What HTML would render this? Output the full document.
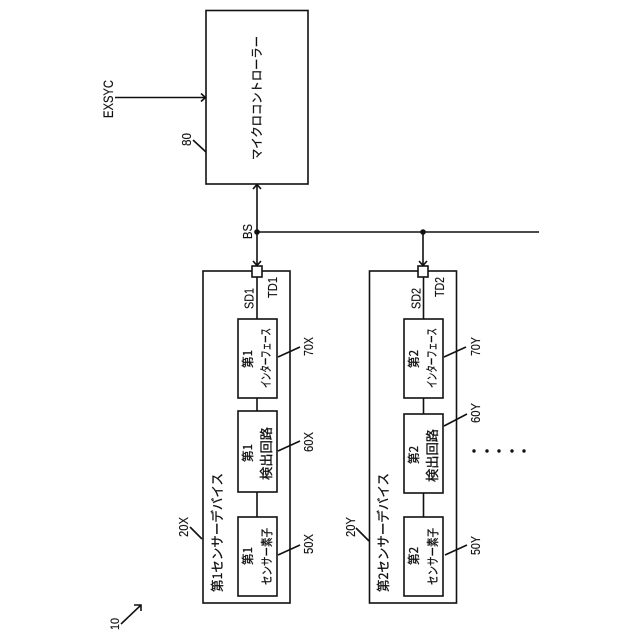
<!DOCTYPE html>
<html><head><meta charset="utf-8"><style>
html,body{margin:0;padding:0;background:#fff}
svg{display:block}
text{font-family:"Liberation Sans","Noto Sans CJK JP",sans-serif;fill:#111;stroke:#111;stroke-width:.15px}
.j text{font-family:"Noto Sans CJK JP","Liberation Sans",sans-serif;stroke-width:.3px}
</style></head><body>
<svg width="640" height="640" viewBox="0 0 640 640" xmlns="http://www.w3.org/2000/svg">
<g fill="none" stroke="#111" stroke-width="1.6">
<rect x="206" y="10.500" width="102" height="173.500" fill="#fff"/>
<path d="M115 97.500H205M201 93.500L205.500 97.500L201 101.500"/>
<path d="M193 140L206 152"/>
<path d="M257 185V266M253 189L257 184.500L261 189M253 261L257 265.500L261 261"/>
<path d="M257 232H539"/>
<path d="M423 232V266M419 261L423 265.500L427 261"/>
<rect x="203" y="271" width="87" height="332"/>
<rect x="369.500" y="271" width="87" height="332"/>
<path d="M257 277V319M257 398V411M257 492V517"/>
<path d="M423.500 277V319M423.500 398V414M423.500 493V517"/>
<rect x="238" y="319" width="39" height="79"/>
<rect x="238" y="411" width="39" height="81"/>
<rect x="238" y="517" width="39" height="79"/>
<rect x="404" y="319" width="39" height="79"/>
<rect x="404" y="414" width="39" height="79"/>
<rect x="404" y="517" width="39" height="79"/>
<rect x="252" y="266" width="10" height="11" fill="#fff"/>
<rect x="418" y="266" width="10" height="11" fill="#fff"/>
<path d="M278 357L300 347M278 451L300 441M278 555L300 545"/>
<path d="M444 357L466 347M444 426L467 414M445 555L467 545"/>
<path d="M190 527L202 539M356 528L369 541"/>
<path d="M121 624L141 605M134 605H141V611"/>
</g>
<circle cx="257" cy="232" r="2.800" fill="#111"/>
<circle cx="423" cy="232" r="2.800" fill="#111"/>
<g fill="#111">
<circle cx="474" cy="451" r="1.700"/><circle cx="487" cy="451" r="1.700"/><circle cx="499" cy="451" r="1.700"/><circle cx="512" cy="451" r="1.700"/><circle cx="524" cy="451" r="1.700"/>
</g>
<g font-size="13.500" lengthAdjust="spacingAndGlyphs">
<text transform="translate(113,118) rotate(-90)" font-size="14" textLength="38" lengthAdjust="spacingAndGlyphs">EXSYC</text>
<text transform="translate(191,146) rotate(-90)" font-size="13" textLength="13" lengthAdjust="spacingAndGlyphs">80</text>
<text transform="translate(252,239) rotate(-90)" font-size="13" textLength="15" lengthAdjust="spacingAndGlyphs">BS</text>
<text transform="translate(253.500,309) rotate(-90)" font-size="13" textLength="21" lengthAdjust="spacingAndGlyphs">SD1</text>
<text transform="translate(277,298) rotate(-90)" font-size="13" textLength="21" lengthAdjust="spacingAndGlyphs">TD1</text>
<text transform="translate(420.500,309) rotate(-90)" font-size="13" textLength="21" lengthAdjust="spacingAndGlyphs">SD2</text>
<text transform="translate(444,297) rotate(-90)" font-size="13" textLength="20" lengthAdjust="spacingAndGlyphs">TD2</text>
<text transform="translate(313,356) rotate(-90)" font-size="13" textLength="19" lengthAdjust="spacingAndGlyphs">70X</text>
<text transform="translate(313,452) rotate(-90)" font-size="13" textLength="20" lengthAdjust="spacingAndGlyphs">60X</text>
<text transform="translate(313,554) rotate(-90)" font-size="13" textLength="20" lengthAdjust="spacingAndGlyphs">50X</text>
<text transform="translate(480,356) rotate(-90)" font-size="13" textLength="19" lengthAdjust="spacingAndGlyphs">70Y</text>
<text transform="translate(480,423) rotate(-90)" font-size="13" textLength="20" lengthAdjust="spacingAndGlyphs">60Y</text>
<text transform="translate(480,555) rotate(-90)" font-size="13" textLength="19" lengthAdjust="spacingAndGlyphs">50Y</text>
<text transform="translate(188,537) rotate(-90)" font-size="13" textLength="20" lengthAdjust="spacingAndGlyphs">20X</text>
<text transform="translate(355,537) rotate(-90)" font-size="13" textLength="20" lengthAdjust="spacingAndGlyphs">20Y</text>
<text transform="translate(119,630) rotate(-90)" font-size="12" textLength="12" lengthAdjust="spacingAndGlyphs">10</text>
</g>
<g class="j">
<text transform="translate(261,160) rotate(-90)" font-size="12" textLength="124" lengthAdjust="spacingAndGlyphs">マイクロコントローラー</text>
<text transform="translate(222,592) rotate(-90)" font-size="13" textLength="119" lengthAdjust="spacingAndGlyphs">第1センサーデバイス</text>
<text transform="translate(388,592) rotate(-90)" font-size="13" textLength="119" lengthAdjust="spacingAndGlyphs">第2センサーデバイス</text>
<text transform="translate(252,368) rotate(-90)" font-size="12" textLength="18" lengthAdjust="spacingAndGlyphs">第1</text>
<text transform="translate(270,388) rotate(-90)" font-size="12" textLength="60" lengthAdjust="spacingAndGlyphs">インターフェース</text>
<text transform="translate(252,462) rotate(-90)" font-size="12" textLength="18" lengthAdjust="spacingAndGlyphs">第1</text>
<text transform="translate(271,480) rotate(-90)" font-size="13" textLength="53" lengthAdjust="spacingAndGlyphs">検出回路</text>
<text transform="translate(252,565) rotate(-90)" font-size="12" textLength="18" lengthAdjust="spacingAndGlyphs">第1</text>
<text transform="translate(271,585) rotate(-90)" font-size="12" textLength="57" lengthAdjust="spacingAndGlyphs">センサー素子</text>
<text transform="translate(418,368) rotate(-90)" font-size="12" textLength="18" lengthAdjust="spacingAndGlyphs">第2</text>
<text transform="translate(436,388) rotate(-90)" font-size="12" textLength="60" lengthAdjust="spacingAndGlyphs">インターフェース</text>
<text transform="translate(418,464) rotate(-90)" font-size="12" textLength="18" lengthAdjust="spacingAndGlyphs">第2</text>
<text transform="translate(437,482) rotate(-90)" font-size="13" textLength="53" lengthAdjust="spacingAndGlyphs">検出回路</text>
<text transform="translate(418,565) rotate(-90)" font-size="12" textLength="18" lengthAdjust="spacingAndGlyphs">第2</text>
<text transform="translate(437,585) rotate(-90)" font-size="12" textLength="57" lengthAdjust="spacingAndGlyphs">センサー素子</text>
</g>
</svg>
</body></html>
